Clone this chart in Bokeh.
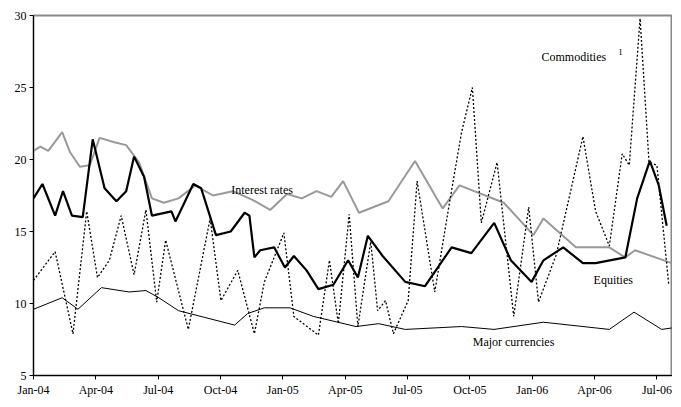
from bokeh.plotting import figure
from bokeh.models import FixedTicker, Range1d
from bokeh.core.properties import value
from bokeh.embed import file_html
from bokeh.resources import INLINE

tick_months = [0, 3, 6, 9, 12, 15, 18, 21, 24, 27, 30]
tick_labels = ["Jan-04", "Apr-04", "Jul-04", "Oct-04", "Jan-05", "Apr-05", "Jul-05",
               "Oct-05", "Jan-06", "Apr-06", "Jul-06"]

eq_m = [0, 0.43, 1.04, 1.42, 1.85, 2.37, 2.85, 3.42, 3.99, 4.46, 4.84, 5.32, 5.70, 6.64, 6.83,
        7.69, 8.07, 8.78, 9.49, 10.16, 10.39, 10.63, 10.91, 11.58, 12.10, 12.53, 13.14, 13.71,
        14.43, 15.14, 15.61, 16.09, 16.80, 17.89, 18.84, 20.12, 21.07, 22.17, 22.97, 23.97,
        24.54, 25.49, 26.44, 27.05, 28.48, 29.05, 29.66, 30.09, 30.47]
eq_v = [17.3, 18.3, 16.1, 17.8, 16.1, 16.0, 21.4, 18.0, 17.1, 17.8, 20.2, 18.8, 16.1, 16.4, 15.7,
        18.3, 18.0, 14.75, 15.0, 16.3, 16.1, 13.2, 13.7, 13.9, 12.5, 13.3, 12.3, 11.0,
        11.3, 13.0, 11.8, 14.7, 13.3, 11.5, 11.2, 13.9, 13.5, 15.6, 13.0, 11.5,
        13.0, 13.9, 12.8, 12.8, 13.2, 17.3, 19.9, 18.2, 15.4]

ir_m = [0, 0.33, 0.71, 1.38, 1.76, 2.23, 2.71, 3.18, 3.89, 4.46, 5.08, 5.70, 6.27, 6.98, 7.78,
        8.64, 9.59, 10.54, 11.39, 12.2, 12.91, 13.62, 14.33, 14.9, 15.66, 17.08, 18.36, 19.69,
        20.5, 22.63, 24.06, 24.54, 26.1, 27.71, 28.47, 28.95, 30.71]
ir_v = [20.6, 20.9, 20.6, 21.9, 20.5, 19.5, 19.6, 21.5, 21.2, 21.0, 19.8, 17.3, 17.0, 17.3, 18.2,
        17.5, 17.8, 17.2, 16.5, 17.6, 17.3, 17.8, 17.4, 18.5, 16.3, 17.1, 19.9, 16.6,
        18.2, 17.0, 14.75, 15.9, 13.9, 13.9, 13.2, 13.7, 12.8]

fx_m = [0, 1.38, 2.14, 3.27, 4.6, 5.41, 6.03, 6.98, 9.68, 10.3, 11.11, 12.34, 13.48, 15.52,
        16.61, 17.89, 20.6, 22.16, 24.54, 27.71, 28.9, 30.23, 30.71]
fx_v = [9.6, 10.4, 9.6, 11.1, 10.8, 10.9, 10.4, 9.5, 8.5, 9.3, 9.7, 9.7, 9.1, 8.4,
        8.6, 8.2, 8.4, 8.2, 8.7, 8.2, 9.4, 8.2, 8.3]

co_m = [0, 1.04, 1.9, 2.56, 3.08, 3.65, 4.22, 4.84, 5.41, 5.93, 6.36, 7.45, 8.5, 9.02, 9.83,
        10.63, 11.11, 12.05, 12.53, 13.71, 14.24, 14.67, 15.19, 15.61, 16.23, 16.56, 16.94,
        17.32, 18.03, 18.46, 19.31, 20.03, 20.6, 21.12, 21.55, 22.31, 23.11, 23.83, 24.3,
        25.16, 26.44, 27.05, 27.71, 28.33, 28.67, 29.19, 29.62, 30.0, 30.57]
co_v = [11.6, 13.6, 7.9, 16.4, 11.8, 13.0, 16.1, 12.0, 16.5, 10.1, 14.4, 8.2, 15.9, 10.2, 12.3,
        7.9, 11.5, 14.9, 9.1, 7.8, 13.0, 8.6, 16.2, 8.4, 14.3, 9.5, 10.2,
        7.9, 10.2, 18.5, 10.8, 17.1, 21.9, 25.0, 15.6, 19.8, 9.1, 16.7, 10.1,
        13.4, 21.6, 16.4, 14.0, 20.4, 19.6, 29.8, 19.8, 19.6, 11.3]

font = "Liberation Serif"
p = figure(width=672, height=399, output_backend="svg", toolbar_location=None,
           x_range=Range1d(0, 30.75), y_range=Range1d(5, 30),
           min_border_left=33, min_border_right=0, min_border_top=15, min_border_bottom=20)
p.xgrid.visible = False
p.ygrid.visible = False
p.outline_line_color = "#888888"
p.outline_line_width = 2

p.line(ir_m, ir_v, line_color="#999999", line_width=2)
p.line(co_m, co_v, line_color="black", line_width=1.3, line_dash="2 2")
p.line(fx_m, fx_v, line_color="black", line_width=1)
p.line(eq_m, eq_v, line_color="black", line_width=2.2)

def label(x, y, t, size="12px"):
    p.text([x], [y], text=[t], text_font=value(font), text_font_size=size,
           text_align="center", text_baseline="middle", text_color="black")

label(11.0, 17.9, "Interest rates")
label(26.0, 27.1, "Commodities")
label(28.25, 27.5, "1", "9px")
label(27.9, 11.6, "Equities")
label(23.1, 7.3, "Major currencies")

p.xaxis.ticker = FixedTicker(ticks=tick_months)
p.xaxis.major_label_overrides = {m: l for m, l in zip(tick_months, tick_labels)}
p.yaxis.ticker = FixedTicker(ticks=[5, 10, 15, 20, 25, 30])
for ax in (p.xaxis, p.yaxis):
    ax.major_label_text_font = font
    ax.major_label_text_font_size = "12px"
    ax.major_label_text_color = "black"
    ax.axis_line_color = "black"
    ax.major_tick_line_color = "black"
    ax.minor_tick_line_color = None
    ax.major_tick_out = 4
    ax.major_tick_in = 0
    ax.major_label_standoff = 3

open("out.html", "w").write(file_html(p, INLINE))
